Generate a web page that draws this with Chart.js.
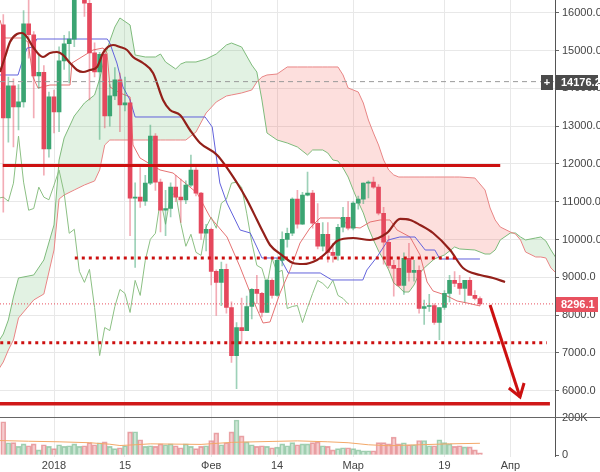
<!DOCTYPE html>
<html>
<head>
<meta charset="utf-8">
<script src="https://cdn.jsdelivr.net/npm/chart.js@4.4.1/dist/chart.umd.min.js"></script>
<style>
  html, body { margin: 0; padding: 0; background: #fff; }
  #wrap { width: 600px; height: 472px; }
</style>
</head>
<body>
<div id="wrap"><canvas id="chart" width="600" height="472"></canvas></div>
<script>
// days are counted from 1 Jan 2018 (0 = 1 Jan)
const days = [
  -10, -9, -8, -7, -6, -5, -4, -3, -2, -1,
  0, 1, 2, 3, 4, 5, 6, 7, 8, 9,
  10, 11, 12, 13, 14, 15, 16, 17, 18, 19,
  20, 21, 22, 23, 24, 25, 26, 27, 28, 29,
  30, 31, 32, 33, 34, 35, 36, 37, 38, 39,
  40, 41, 42, 43, 44, 45, 46, 47, 48, 49,
  50, 51, 52, 53, 54, 55, 56, 57, 58, 59,
  60, 61, 62, 63, 64, 65, 66, 67, 68, 69,
  70, 71, 72, 73, 74, 75, 76, 77, 78, 79,
  80, 81, 82, 83, 84
];
const opens = [
  15680, 13215, 14064, 13506, 13640, 15708, 15416, 14329, 14420, 12393,
  13772, 13374, 14727, 15178, 15300, 17400, 17500, 16250, 14939, 14435,
  14900, 13268, 13798, 14223, 13560, 13613, 11093, 11119, 11013, 11490,
  12737, 11517, 10774, 10820, 11385, 11120, 11050, 11437, 11835, 11225,
  10164, 10270, 9157, 8865, 9210, 8200, 6928, 7671, 7590, 8228,
  8679, 8573, 8069, 8918, 8520, 9448, 10005, 10164, 11066, 10403,
  11172, 11225, 10430, 9820, 10138, 9660, 9580, 10324, 10589, 10297,
  10960, 11066, 11490, 11517, 11385, 10695, 9926, 9316, 9236, 8785,
  9501, 9130, 9183, 8175, 8228, 8254, 7803, 8201, 8573, 8918,
  8838, 8705, 8918, 8520, 8440
];
const highs = [
  15950, 14300, 14250, 14100, 16053, 16400, 15500, 14900, 14600, 13900,
  13950, 15100, 15400, 15500, 17700, 17700, 17550, 16500, 15200, 14950,
  15000, 14100, 14550, 14400, 14300, 13700, 11500, 11900, 11700, 13029,
  12800, 11600, 11300, 11500, 11700, 11600, 11550, 12233, 11900, 11250,
  10400, 10300, 9200, 9400, 9350, 8350, 7800, 8450, 8500, 8700,
  9050, 8600, 8950, 8960, 9500, 10200, 10300, 11100, 11300, 11250,
  11783, 11300, 10950, 10450, 10450, 9900, 10400, 10850, 11000, 11000,
  11150, 11500, 11550, 11650, 11450, 10850, 10100, 9450, 9500, 9650,
  9900, 9450, 9300, 8400, 8550, 8300, 8200, 8650, 9050, 9150,
  9050, 8900, 9000, 8650, 8480
];
const lows = [
  10720, 12578, 12446, 12900, 13500, 14800, 13215, 14000, 11700, 12180,
  12817, 12850, 14500, 14140, 15100, 16700, 15900, 13692, 14300, 12650,
  12950, 13000, 13700, 12850, 13400, 10100, 9263, 10850, 10900, 11450,
  11300, 10200, 10100, 10600, 11000, 10450, 10950, 11400, 11150, 10000,
  9700, 8800, 7989, 8250, 8050, 6750, 6053, 7250, 7590, 7900,
  8300, 7950, 8069, 8450, 8500, 9300, 9800, 10100, 10300, 10400,
  11150, 10300, 9750, 9700, 9400, 9400, 9450, 10200, 10250, 10250,
  10800, 10950, 11100, 11350, 10650, 9350, 9250, 8500, 8750, 8550,
  8900, 8900, 8050, 7750, 8100, 7750, 7350, 8150, 8350, 8750,
  8550, 8350, 8600, 8400, 8250
];
const closes = [
  13215, 14064, 13506, 13640, 15708, 15416, 14329, 14420, 12393, 13772,
  13374, 14727, 15178, 15300, 17400, 17500, 16250, 14939, 14435, 14900,
  13268, 13798, 14223, 13560, 13613, 11093, 11119, 11013, 11490, 12737,
  11517, 10774, 10820, 11385, 11120, 11050, 11437, 11835, 11225, 10164,
  10270, 9157, 8865, 9210, 8200, 6928, 7671, 7590, 8228, 8679,
  8573, 8069, 8918, 8520, 9448, 10005, 10164, 11066, 10403, 11172,
  11225, 10430, 9820, 10138, 9660, 9580, 10324, 10589, 10297, 10960,
  11066, 11490, 11517, 11385, 10695, 9926, 9316, 9236, 8785, 9501,
  9130, 9183, 8175, 8228, 8254, 7803, 8201, 8573, 8918, 8838,
  8705, 8918, 8520, 8440, 8296
];
// volume, thousands
const volumes = [
  180, 67, 68, 47, 61, 51, 61, 29, 56, 47,
  35, 56, 47, 51, 61, 47, 51, 68, 56, 67,
  72, 47, 35, 40, 51, 125, 126, 83, 47, 51,
  47, 61, 56, 61, 51, 40, 61, 47, 35, 47,
  51, 79, 120, 56, 67, 125, 189, 104, 72, 56,
  47, 51, 47, 40, 43, 61, 51, 68, 56, 61,
  61, 68, 72, 51, 47, 29, 35, 40, 40, 35,
  29, 24, 24, 24, 68, 68, 61, 97, 61, 67,
  56, 56, 79, 79, 51, 51, 83, 68, 61, 47,
  51, 45, 45, 29, 13
];
const volumeMA = [
  [-11, 79], [-5, 75], [1, 72], [7, 67], [11, 59], [13, 52], [16, 56], [19, 61],
  [29, 58], [35, 69], [43, 74], [48, 77], [54, 72], [58, 67], [62, 56], [66, 51],
  [72, 56], [78, 61], [84, 64]
];

// Ichimoku cloud
const cloudDays = [
  -11, -10, -9, -8, -7, -4, -2, 0, 1, 2, 4, 6, 8, 9, 10, 11, 12, 13, 15, 16,
  18, 20, 21, 22, 24, 25, 26, 28, 30, 32, 34, 35, 37, 39, 40, 41, 42, 44, 46, 48,
  50, 51, 53, 54, 55, 56, 57, 58, 59, 60, 61, 62, 63, 64, 65, 66, 67, 68, 69, 70,
  71, 72, 73, 75, 77, 79, 80, 83, 85, 86, 87, 88, 90, 91, 92, 93, 95, 96, 97, 98, 99
];
const spanA = [
  7289, 7500, 7871, 8479, 8982, 9061, 9458, 10384, 12103, 12686, 13267, 13611, 13823, 14246, 14828, 15251, 15622, 15860, 15675, 14881,
  14828, 14828, 14907, 14696, 14511, 14643, 14696, 14696, 14775, 14907, 15146, 15198, 15093, 14616, 14431, 13691, 12818, 12632, 12553, 12447,
  12236, 12368, 12368, 12288, 12103, 12077, 11891, 11653, 11310, 10992, 10701, 10304, 9987, 9696, 9458, 9193, 8849, 8744, 8611, 8611,
  8796, 9087, 9246, 9484, 9590, 9802, 9749, 9722, 9616, 9616, 9722, 9987, 10172, 10172, 10066, 9987, 10040, 10066, 9960, 9722, 9511
];
const spanB = [
  6548, 6759, 7077, 7341, 7923, 8400, 8558, 9722, 11071, 11177, 11310, 11442, 11548, 11839, 12500, 12632, 12632, 12632, 12632, 12632,
  12632, 12632, 12632, 12632, 12632, 12632, 12632, 12844, 13347, 13638, 13796, 13823, 13876, 13955, 14167, 14299, 14352, 14378, 14564, 14564,
  14564, 14564, 14564, 14564, 14564, 14564, 14352, 14008, 13955, 13902, 13611, 13161, 12818, 12500, 12103, 11839, 11707, 11653, 11653, 11653,
  11653, 11653, 11653, 11653, 11653, 11653, 11653, 11627, 11310, 10833, 10516, 10331, 10198, 10146, 9987, 9669, 9537, 9537, 9511, 9246, 9114
];
// lagging span starts at day -11
const laggingStart = -11;
const lagging = [
  11093, 11119, 11013, 11490, 12737, 11517, 10774, 10820, 11385, 11120, 11050, 11437, 11835, 11225, 10164, 10270, 9157, 8865, 9210, 8200,
  6928, 7671, 7590, 8228, 8679, 8573, 8069, 8918, 8520, 9448, 10005, 10164, 11066, 10403, 11172, 11225, 10430, 9820, 10138, 9660,
  9580, 10324, 10589, 10297, 10960, 11066, 11490, 11517, 11385, 10695, 9926, 9316, 9236, 8785, 9501, 9130, 9183, 8175, 8228, 8254,
  7803, 8201, 8573, 8918, 8838, 8705, 8918, 8520, 8440, 8296
];
const conversion = [
  [-11, 14352], [-7.1, 14352], [-6.3, 14696], [-5.3, 15066], [-4.1, 15093], [-3.4, 15304], [10.5, 15304], [11, 15198],
  [12.4, 14669], [13.6, 14034], [15, 13691], [16, 13241], [29.8, 13241], [31.2, 12976], [32.1, 12103], [32.7, 11495],
  [34.1, 10966], [36.7, 10251], [38.7, 10172], [40, 9802], [41, 9511], [44.6, 9511], [46.2, 9114], [52.5, 9114],
  [54.8, 8929], [60.9, 8929], [61.7, 9193], [63.7, 9537], [65.9, 9987], [68.2, 10066], [71.2, 10066], [73.2, 9722],
  [75.1, 9722], [76.1, 9484], [84, 9484]
];
const baseLine = [
  [-10.65, 15807], [-9.66, 15331], [-6.31, 15331], [-5.13, 15225], [-4.14, 14299], [-3.16, 14008], [-0.79, 14087], [3.16, 14087],
  [3.55, 14669], [7.69, 15013], [9.66, 15066], [10.45, 14934], [11.05, 14034], [13.02, 13876], [15, 13770], [15.58, 12500],
  [16.96, 12156], [20.91, 11839], [23.47, 11759], [28.21, 11230], [30.77, 10595], [34.12, 10066], [36.69, 9272], [39.25, 8400],
  [41.22, 7791], [42.6, 7818], [44.58, 8585], [46.55, 9193], [48.52, 9907], [50.49, 10304], [52.47, 10569], [56.41, 10569],
  [58.38, 10331], [60.36, 10304], [62.33, 10463], [64.3, 10516], [66.27, 10516], [67.65, 10251], [70.22, 10066], [72.19, 9590],
  [73.57, 8876], [74.75, 8638], [77.12, 8532], [79.49, 8373], [81.46, 8320], [84.02, 8241]
];
const movingAvg = [
  [-10.65, 14431], [-9.66, 14828], [-8.68, 15225], [-7.3, 15437], [-6.31, 15463], [-5.33, 15357], [-4.14, 15093], [-2.17, 14828],
  [-0.79, 14934], [0.59, 14960], [1.78, 14881], [3.16, 14669], [4.54, 14484], [5.72, 14431], [7.1, 14484], [8.48, 14564],
  [9.66, 14934], [10.65, 15093], [11.64, 15146], [13.02, 15093], [14.4, 15013], [15.58, 14828], [17.55, 14669], [19.53, 14405],
  [21.5, 13691], [22.88, 13426], [24.85, 13294], [26.82, 12897], [28.8, 12553], [32.15, 12235], [36.1, 11495], [38.07, 11045],
  [40.04, 10516], [41.22, 10198], [42.6, 9855], [45.17, 9563], [47.14, 9378], [49.1, 9352], [51.87, 9458], [53.85, 9669],
  [55.82, 9960], [58.97, 10040], [62.33, 9987], [65.68, 10172], [68.24, 10543], [70.22, 10516], [72.19, 10384], [74.75, 10172],
  [78.11, 9722], [80.67, 9246], [84.02, 9061], [86.59, 8982], [88.95, 8876]
];

// hand-drawn levels and forecast arrow
const resistance = [[-10.1, 11960], [88.0, 11960]];
const upperDotted = [[4.1, 9511], [79.5, 9511]];
const lowerDotted = [[-10.6, 7270], [97.2, 7270]];
const support = [[-10.65, 5656], [97.8, 5656]];
const arrowShaft = [[86.0, 8267], [91.9, 5833]];
const arrowHead = [[89.7, 6072], [91.9, 5833], [92.7, 6204]];

const lastPrice = 8296.1;
const crossPrice = 14176.2;
const tickDays = [0, 14, 31, 44, 59, 77, 90];
const tickLabels = ['2018', '15', 'Фев', '14', 'Мар', '19', 'Апр'];
const priceTicks = [6000, 7000, 8000, 9000, 10000, 11000, 12000, 13000, 14000, 15000, 16000];
const volumeTicks = [0, 200];

const pts = arr => arr.map(([x, y]) => ({ x, y }));
const up = days.map((d, i) => closes[i] >= opens[i]);
const xMin = -10.65, xMax = 98.8;

Chart.defaults.font.family = '"Liberation Sans", Arial, sans-serif';
Chart.defaults.font.size = 11;

const line = (data, color, width, order, extra) => Object.assign({
  type: 'line', data, borderColor: color, borderWidth: width, pointRadius: 0,
  fill: false, tension: 0, order
}, extra || {});

const overlay = {
  id: 'overlay',
  afterDraw(chart) {
    const { ctx } = chart;
    const y = chart.scales.y;
    ctx.save();
    // separator between price and volume panes
    const sy = Math.round(y.bottom) + 0.5;
    ctx.strokeStyle = '#666';
    ctx.lineWidth = 1;
    ctx.beginPath();
    ctx.moveTo(0, sy);
    ctx.lineTo(chart.width, sy);
    ctx.stroke();

    const tag = (value, color, plus) => {
      const py = Math.round(y.getPixelForValue(value));
      ctx.fillStyle = color;
      ctx.fillRect(y.left + 1, py - 7, chart.width - y.left - 3, 15);
      if (plus) ctx.fillRect(y.left - 14, py - 7, 12, 15);
      ctx.fillStyle = '#fff';
      ctx.font = 'bold 11px "Liberation Sans", Arial, sans-serif';
      ctx.textBaseline = 'middle';
      ctx.textAlign = 'left';
      ctx.fillText(value.toFixed(1), y.left + 6, py + 1);
      if (plus) {
        ctx.textAlign = 'center';
        ctx.fillText('+', y.left - 8, py + 1);
      }
    };
    tag(crossPrice, '#4b4b4b', true);
    tag(lastPrice, '#e8515f', false);
    ctx.restore();
  }
};

new Chart(document.getElementById('chart'), {
  type: 'bar',
  data: {
    datasets: [
      line(cloudDays.map((d, i) => ({ x: d, y: spanA[i] })), '#7fbb7c', 1, 20, {
        fill: { target: 1, above: 'rgba(76,175,80,0.16)', below: 'rgba(244,67,54,0.17)' }
      }),
      line(cloudDays.map((d, i) => ({ x: d, y: spanB[i] })), '#e98585', 1, 19),
      {
        type: 'bar', yAxisID: 'yv', order: 18, grouped: false, barThickness: 5,
        data: days.map((d, i) => ({ x: d, y: volumes[i] })),
        backgroundColor: up.map(u => u ? 'rgba(120,190,145,0.38)' : 'rgba(230,120,125,0.38)'),
        borderColor: up.map(u => u ? 'rgba(110,180,135,0.6)' : 'rgba(220,110,115,0.6)'),
        borderWidth: 1
      },
      line(pts(volumeMA), '#f3a868', 1, 17, { yAxisID: 'yv' }),
      line(lagging.map((v, i) => ({ x: laggingStart + i, y: v })), '#8cc084', 1, 16),
      line(pts(baseLine), '#e57373', 1, 15),
      line(pts(conversion), '#6262dc', 1, 14),
      {
        type: 'bar', order: 13, grouped: false, barThickness: 1,
        data: days.map((d, i) => ({ x: d, y: [lows[i], highs[i]] })),
        backgroundColor: up.map(u => u ? 'rgba(59,164,114,0.5)' : 'rgba(229,72,93,0.45)')
      },
      {
        type: 'bar', order: 12, grouped: false, barThickness: 4, minBarLength: 1,
        data: days.map((d, i) => ({ x: d, y: [opens[i], closes[i]] })),
        backgroundColor: up.map(u => u ? '#3ba472' : '#e5485d')
      },
      line(pts(movingAvg), '#93201a', 2.2, 11, { cubicInterpolationMode: 'monotone' }),
      line([{ x: xMin, y: crossPrice }, { x: xMax, y: crossPrice }], '#9a9a9a', 1, 10, { borderDash: [5, 4] }),
      line([{ x: xMin, y: lastPrice }, { x: xMax, y: lastPrice }], '#e8515f', 1, 10, { borderDash: [1, 2] }),
      line(pts(resistance), '#cc1010', 3, 2),
      line(pts(upperDotted), '#cc1010', 3, 2, { borderDash: [3, 4] }),
      line(pts(lowerDotted), '#cc1010', 3, 2, { borderDash: [3, 4] }),
      line(pts(support), '#d01818', 3.5, 2),
      line(pts(arrowShaft), '#cc1010', 3, 1),
      line(pts(arrowHead), '#cc1010', 3, 1)
    ]
  },
  options: {
    responsive: false,
    animation: false,
    events: [],
    layout: { padding: 0 },
    plugins: { legend: { display: false }, tooltip: { enabled: false } },
    scales: {
      x: {
        type: 'linear', min: xMin, max: xMax, offset: false,
        grid: { color: '#e8e8e8', drawTicks: false, offset: false },
        border: { display: false },
        ticks: {
          padding: 3, color: '#444', maxRotation: 0, autoSkip: false,
          callback: v => tickLabels[tickDays.indexOf(v)] || ''
        },
        afterBuildTicks: s => { s.ticks = tickDays.map(v => ({ value: v })); },
        afterFit: s => { s.height = 15.5; s.paddingLeft = 0; s.paddingRight = 0; }
      },
      y: {
        position: 'right', stack: 'panes', stackWeight: 416.5, min: 5317, max: 16336,
        grid: { color: '#e8e8e8', tickLength: 4, tickColor: '#666' },
        border: { color: '#555' },
        ticks: { padding: 3, color: '#444', callback: v => v.toFixed(1) },
        afterBuildTicks: s => { s.ticks = priceTicks.map(v => ({ value: v })); },
        afterFit: s => { s.width = 45; s.paddingTop = 0; s.paddingBottom = 0; }
      },
      yv: {
        position: 'right', stack: 'panes', stackWeight: 40, min: -7, max: 208,
        grid: { drawOnChartArea: false, tickLength: 4, tickColor: '#666' },
        border: { color: '#555' },
        ticks: { padding: 3, color: '#444', callback: v => v === 0 ? '0' : v + 'K' },
        afterBuildTicks: s => { s.ticks = volumeTicks.map(v => ({ value: v })); },
        afterFit: s => { s.width = 45; s.paddingTop = 0; s.paddingBottom = 0; }
      }
    }
  },
  plugins: [overlay]
});
</script>
</body>
</html>
